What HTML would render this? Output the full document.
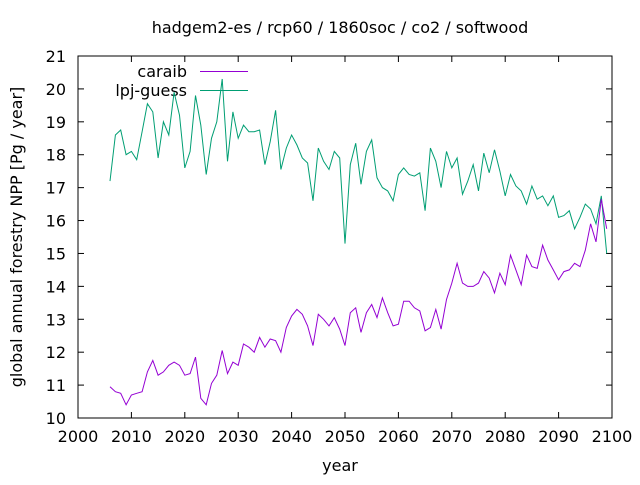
<!DOCTYPE html>
<html><head><meta charset="utf-8"><style>
body{margin:0;background:#fff}
svg text{font-family:"DejaVu Sans",sans-serif;font-size:16px;fill:#000}
</style></head><body>
<svg id="s" width="640" height="480" xmlns="http://www.w3.org/2000/svg">
<rect width="640" height="480" fill="#fff"/>
<text x="340" y="33" text-anchor="middle">hadgem2-es / rcp60 / 1860soc / co2 / softwood</text>
<g id="ax" stroke="#000" stroke-width="1" fill="none"></g>
<g id="lbl"></g>
<text x="340" y="471" text-anchor="middle">year</text>
<text transform="translate(22,237) rotate(-90)" text-anchor="middle">global annual forestry NPP [Pg / year]</text>
<text x="187" y="77" text-anchor="end">caraib</text>
<line x1="200" y1="71.5" x2="248" y2="71.5" stroke="#9400d3"/>
<text x="187" y="96" text-anchor="end">lpj-guess</text>
<line x1="200" y1="90.5" x2="248" y2="90.5" stroke="#009e73"/>
<polyline id="g" fill="none" stroke="#009e73" stroke-width="1"/>
<polyline id="p" fill="none" stroke="#9400d3" stroke-width="1"/>
</svg>
<script>
var X0=78,X1=612,Y0=418,Y1=56;
function X(y){return X0+(y-2000)*(X1-X0)/100}
function Y(v){return Y0-(v-10)*(Y0-Y1)/11}
var ax=document.getElementById('ax'),lb=document.getElementById('lbl'),ns='http://www.w3.org/2000/svg';
function el(p,t,a,tx){var e=document.createElementNS(ns,t);for(var k in a)e.setAttribute(k,a[k]);if(tx)e.textContent=tx;p.appendChild(e);return e}
el(ax,'rect',{x:X0,y:Y1,width:X1-X0,height:Y0-Y1});
for(var v=10;v<=21;v++){var y=Y(v);el(ax,'line',{x1:X0,y1:y,x2:X0+6,y2:y});el(ax,'line',{x1:X1,y1:y,x2:X1-6,y2:y});el(lb,'text',{x:X0-12,y:y+6,'text-anchor':'end'},v)}
for(var t=2000;t<=2100;t+=10){var x=X(t);el(ax,'line',{x1:x,y1:Y0,x2:x,y2:Y0-6});el(ax,'line',{x1:x,y1:Y1,x2:x,y2:Y1+6});el(lb,'text',{x:x,y:Y0+24,'text-anchor':'middle'},t)}
var g=[17.2,18.6,18.75,18.0,18.1,17.85,18.7,19.55,19.3,17.9,19.0,18.6,19.9,19.2,17.6,18.1,19.8,18.9,17.4,18.5,19.0,20.3,17.8,19.3,18.5,18.9,18.7,18.7,18.75,17.7,18.4,19.35,17.55,18.2,18.6,18.3,17.9,17.75,16.6,18.2,17.8,17.55,18.1,17.9,15.3,17.7,18.35,17.1,18.1,18.45,17.3,17.0,16.9,16.6,17.4,17.6,17.4,17.35,17.45,16.3,18.2,17.8,17.0,18.1,17.6,17.9,16.8,17.2,17.7,16.9,18.05,17.45,18.15,17.5,16.75,17.4,17.05,16.9,16.5,17.05,16.65,16.75,16.45,16.75,16.1,16.15,16.3,15.75,16.1,16.5,16.35,15.9,16.75,15.0];
var p=[10.95,10.8,10.75,10.4,10.7,10.75,10.8,11.4,11.75,11.3,11.4,11.6,11.7,11.6,11.3,11.35,11.85,10.6,10.4,11.05,11.3,12.05,11.35,11.7,11.6,12.25,12.15,12.0,12.45,12.15,12.4,12.35,12.0,12.75,13.1,13.3,13.15,12.8,12.2,13.15,13.0,12.8,13.05,12.7,12.2,13.2,13.35,12.6,13.2,13.45,13.05,13.65,13.2,12.8,12.85,13.55,13.55,13.35,13.25,12.65,12.75,13.3,12.7,13.6,14.1,14.7,14.1,14.0,14.0,14.1,14.45,14.25,13.8,14.4,14.05,14.95,14.5,14.05,14.95,14.6,14.55,15.25,14.8,14.5,14.2,14.45,14.5,14.7,14.6,15.1,15.9,15.35,16.65,15.75];
function pts(a){return a.map(function(v,i){return X(2006+i).toFixed(1)+','+Y(v).toFixed(1)}).join(' ')}
document.getElementById('g').setAttribute('points',pts(g));
document.getElementById('p').setAttribute('points',pts(p));
</script>
</body></html>
